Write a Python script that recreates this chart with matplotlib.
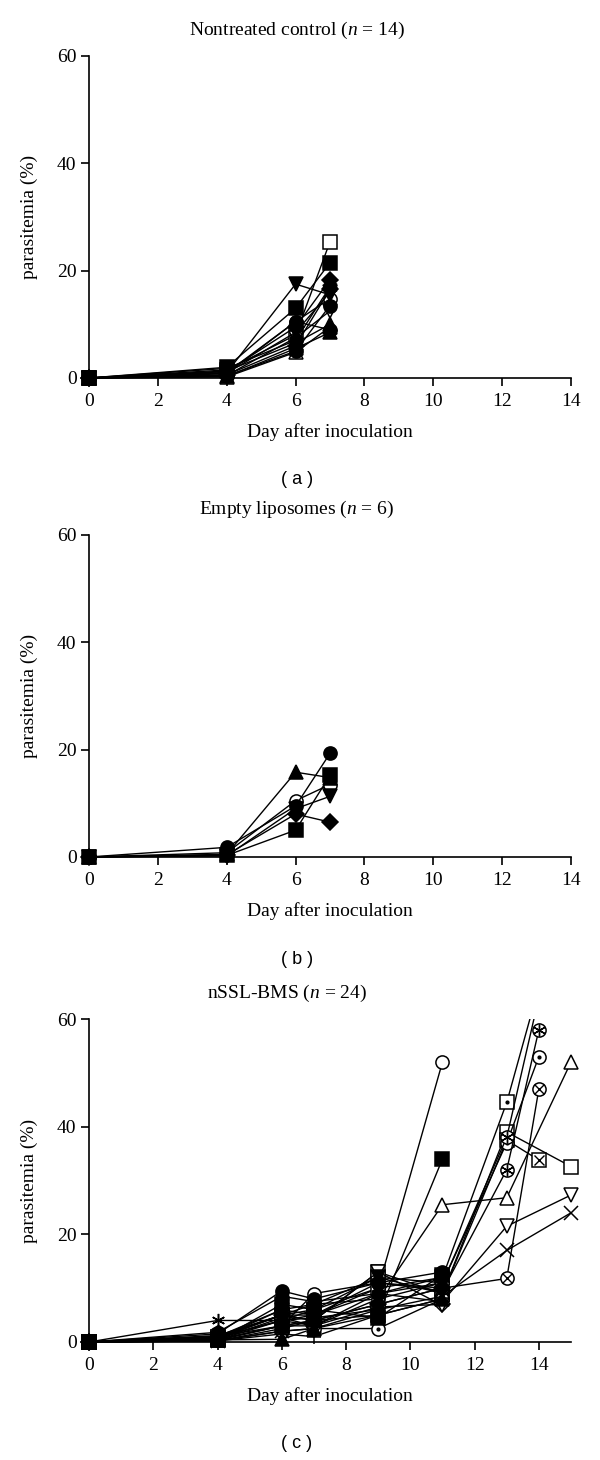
import numpy as np
import matplotlib
matplotlib.use("Agg")
import matplotlib.pyplot as plt
from matplotlib.patches import Rectangle

plt.rcParams['font.family'] = ['Liberation Serif', 'DejaVu Serif']
plt.rcParams['mathtext.fontset'] = 'custom'
plt.rcParams['mathtext.it'] = 'Liberation Serif:italic'
plt.rcParams['mathtext.rm'] = 'Liberation Serif'

# ---- data: panel (a) nontreated control, days 0/4/6/7 ----
days_a = [0, 4, 6, 7]
para_a = [
    [0, 1.5, 8.0, 25.4],
    [0, 2.0, 13.0, 21.5],
    [0, 1.0, 17.5, 15.5],
    [0, 1.2, 9.5, 18.3],
    [0, 0.8, 10.5, 14.8],
    [0, 0.5, 7.5, 12.5],
    [0, 1.0, 10.5, 9.0],
    [0, 0.3, 5.5, 8.5],
    [0, 0.6, 6.0, 16.5],
    [0, 1.8, 7.0, 17.0],
    [0, 0.2, 4.8, 9.5],
    [0, 0.4, 5.0, 13.5],
    [0, 1.3, 6.5, 10.0],
    [0, 0.9, 8.5, 16.0],
]
mark_a = ['so', 'sf', 'vf', 'Df', 'oo', 'vo', 'of', '^f', 'Df', 'hf', '^o', 'of', '^f', 'vf']

# ---- data: panel (b) empty liposomes ----
days_b = [0, 4, 6, 7]
para_b = [
    [0, 1.8, 9.5, 19.3],
    [0, 0.5, 15.8, 14.8],
    [0, 0.3, 5.0, 15.2],
    [0, 0.8, 10.5, 13.5],
    [0, 0.2, 9.0, 11.3],
    [0, 0.4, 8.0, 6.5],
]
mark_b = ['of', '^f', 'sf', 'oo', 'vf', 'Df']

# ---- data: panel (c) nSSL-BMS, per mouse (days differ) ----
days_c = [
    [0, 4, 6, 7, 9, 11],
    [0, 4, 6, 7, 9, 11],
    [0, 4, 6, 7, 9, 11, 13, 15],
    [0, 4, 6, 7, 9, 11, 13, 15],
    [0, 4, 6, 7, 9, 11, 13, 14],
    [0, 4, 6, 7, 9, 11, 13, 15],
    [0, 4, 6, 7, 9, 11, 13, 15],
    [0, 4, 6, 7, 9, 11, 13, 14],
    [0, 4, 6, 7, 9, 11, 13, 14],
    [0, 4, 6, 7, 9, 11, 13, 14],
    [0, 4, 6, 7, 9, 11, 13, 14],
    [0, 4, 6, 7, 9, 11, 13, 14],
    [0, 4, 6, 7, 9, 11],
    [0, 4, 6, 7, 9],
    [0, 4, 6, 7, 9, 11],
    [0, 4, 6, 7, 9, 11],
    [0, 4, 6, 7, 9, 11],
    [0, 4, 6, 7, 9, 11],
    [0, 4, 6, 7, 9, 11],
    [0, 4, 6, 7, 9, 11],
    [0, 4, 6, 7, 9, 11],
    [0, 4, 6, 7, 9, 11],
    [0, 4, 6, 7, 9, 11],
    [0, 4, 6, 7, 9, 11],
]
para_c = [
    [0, 0.8, 4.0, 5.0, 10.0, 52.0],
    [0, 0.5, 3.0, 4.0, 5.0, 34.0],
    [0, 0.3, 3.0, 3.0, 8.0, 25.5, 26.8, 52.0],
    [0, 1.0, 5.0, 6.0, 12.0, 9.0, 39.0, 32.6],
    [0, 0.6, 5.0, 4.0, 13.0, 9.0, 37.5, 33.8],
    [0, 0.4, 4.0, 3.0, 9.0, 7.5, 21.5, 27.3],
    [0, 0.2, 2.0, 2.5, 6.0, 8.5, 17.0, 24.0],
    [0, 0.5, 3.0, 4.0, 7.0, 10.0, 11.8, 47.0],
    [0, 0.7, 5.0, 5.0, 9.0, 11.0, 37.0, 53.0],
    [0, 1.0, 6.0, 5.0, 11.0, 9.5, 32.0, 58.0],
    [0, 0.9, 4.0, 6.0, 10.0, 12.0, 44.5, 66.0],
    [0, 1.2, 5.0, 7.0, 8.0, 11.0, 38.0, 64.0],
    [0, 1.5, 9.5, 8.0, 11.0, 13.0],
    [0, 4.0, 4.0, 4.5, 6.0],
    [0, 0.2, 1.5, 1.0, 5.0, 8.0],
    [0, 0.3, 2.0, 2.5, 2.5, 8.0],
    [0, 0.8, 5.0, 4.0, 7.0, 10.0],
    [0, 0.4, 0.5, 2.5, 5.0, 8.0],
    [0, 0.6, 6.0, 7.0, 12.0, 11.0],
    [0, 1.0, 3.0, 9.0, 11.0, 10.0],
    [0, 0.3, 7.0, 6.0, 4.5, 12.5],
    [0, 1.8, 8.5, 7.5, 9.0, 12.0],
    [0, 0.5, 4.5, 3.0, 6.5, 7.0],
    [0, 0.2, 2.5, 4.0, 13.0, 6.8],
]
mark_c = ['oo', 'sf', '^o', 'so', 'sx', 'vo', 'x', 'ox', 'o.', 'o*', 's.', 'o*',
          'of', 'ast', '+', 'o.', 'Df', '^f', 'vf', 'oo', 'sf', 'hf', 'Do', 'vo']

titles = ['Nontreated control ($n$ = 14)', 'Empty liposomes ($n$ = 6)', 'nSSL-BMS ($n$ = 24)']
panel_tags = ['( a )', '( b )', '( c )']

W, H = 600, 1460
fig = plt.figure(figsize=(W / 100, H / 100), dpi=100)


def px_axes(left, top, right, bottom):
    return fig.add_axes([left / W, 1 - bottom / H, (right - left) / W, (bottom - top) / H])


def draw(ax, x, y, code, clip):
    base = code[0]
    over = None
    face = 'white'
    if code == 'x':
        base, face = 'x', 'black'
    elif code == '+':
        base, face = '+', 'black'
    elif code == 'ast':
        base, face = (6, 2, 0), 'black'
    elif code[1] == 'f':
        face = 'black'
    elif code[1] in 'x.*':
        over = code[1]
    ms = 9.5
    if base == 'D':
        ms = 8
    elif base == 'h':
        ms = 10
    # filled symbols sit on top of the open ones
    z = 3 if face == 'black' else 2
    ln, = ax.plot(x, y, color='black', lw=1.0, marker=base, ms=ms,
                  mfc=face, mec='black', mew=1.1, zorder=z)
    extra = []
    if over == 'x':
        extra.append(ax.plot(x, y, ls='none', marker='x', ms=7, mec='black', mew=1.0, zorder=z)[0])
    elif over == '.':
        extra.append(ax.plot(x, y, ls='none', marker='o', ms=2, mfc='black', mec='black', zorder=z)[0])
    elif over == '*':
        extra.append(ax.plot(x, y, ls='none', marker=(6, 2, 0), ms=8.5, mec='black', mew=1.0, zorder=z)[0])
    for a in [ln] + extra:
        if clip:
            a.set_clip_path(Rectangle((-0.06, -0.06), 1.12, 1.06, transform=ax.transAxes))
        else:
            a.set_clip_on(False)


def style(ax, xmax):
    ax.set_xlim(0, xmax)
    ax.set_ylim(0, 60)
    ax.set_xticks(range(0, 15, 2))
    ax.set_yticks([0, 20, 40, 60])
    for s in ['top', 'right']:
        ax.spines[s].set_visible(False)
    for s in ['left', 'bottom']:
        ax.spines[s].set_linewidth(1.2)
    ax.tick_params(direction='out', length=6, width=1.2, labelsize=14)
    ax.tick_params(axis='x', pad=5)
    ax.tick_params(axis='y', pad=3)
    ax.set_ylabel('parasitemia (%)', fontsize=14)
    ax.yaxis.set_label_coords(-0.105, 0.5)


panels = [(56, 378, 14), (535, 857, 14), (1019, 1342, 15)]
left, right = 89, 571
title_x = [297, 297, 287]

for i, (top, bot, xmax) in enumerate(panels):
    ax = px_axes(left, top, right, bot)
    style(ax, xmax)
    if i == 0:
        for yv, m in zip(para_a, mark_a):
            draw(ax, days_a, yv, m, False)
    elif i == 1:
        for yv, m in zip(para_b, mark_b):
            draw(ax, days_b, yv, m, False)
    else:
        for xv, yv, m in zip(days_c, para_c, mark_c):
            draw(ax, xv, yv, m, True)
    fig.text(title_x[i] / W, 1 - (top - 26) / H, titles[i], ha='center', va='center', fontsize=14)
    fig.text((left + right) / 2 / W, 1 - (bot + 54) / H, 'Day after inoculation',
             ha='center', va='center', fontsize=14)
    fig.text(297 / W, 1 - (bot + 102) / H, panel_tags[i], ha='center', va='center',
             fontsize=13, family=['Liberation Sans', 'DejaVu Sans'])

fig.savefig('out.png', dpi=100)
